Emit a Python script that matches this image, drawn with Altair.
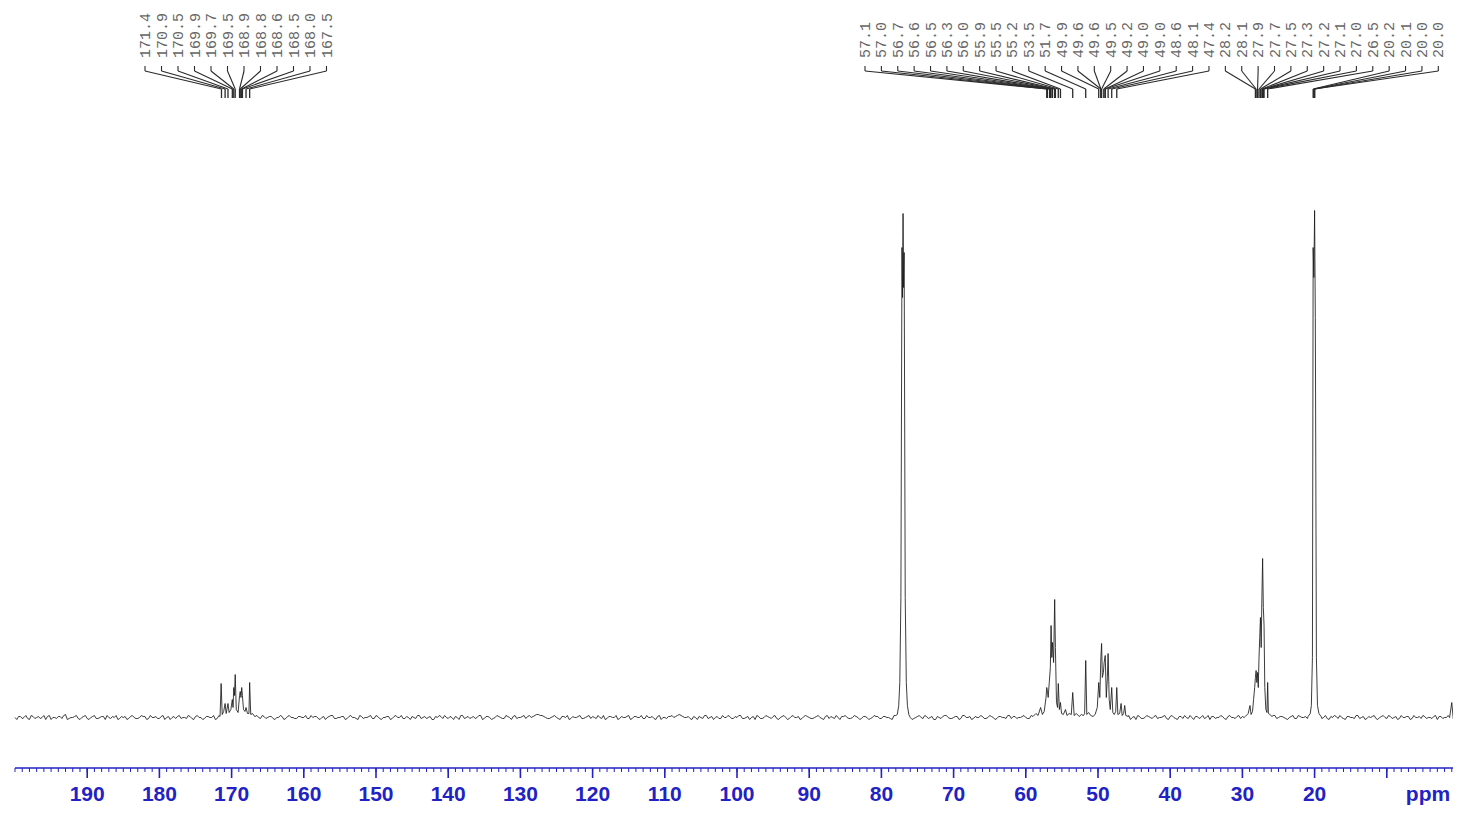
import altair as alt
import pandas as pd

# ---------------- data ----------------
# baseline noise, one value every 0.5 ppm starting at 200 ppm (pixel-like intensity units)
NOISE_START = 200.0
NOISE_STEP = 0.5
noise = [
    0, 1, -1, 2, -2, 1, 0, -1, 2, 1, -2, 0, 1, -1, 3, -1, 0, 2, -2, 1, -1, 0, 2, -1, 1, -2, 0, 1, 2, -1, 0, -2, 1, 0, -1, 2, 1, -1, 0, 1,
    -1, 2, 0, -2, 1, 1, -1, 0, 2, -1, 1, 0, -2, 1, 0, 2, -1, 1, 0, -1, 2, 0, 1, -2, 1, 0, -1, 2, -1, 1, 0, 1, -2, 0, 1, -1, 2, 0, -1, 1,
    0, -1, 2, 1, -1, 0, -2, 1, 2, -1, 0, 1, -1, 2, 0, -2, 1, 0, 1, -1, 2, -1, 0, 1, -2, 1, 0, 2, -1, 0, 1, -1, 2, 0, -1, 1, -2, 0, 1, 2,
    -1, 0, 1, -2, 2, 0, -1, 1, 0, 2, -1, 1, -2, 0, 1, -1, 2, 0, 1, -1, 0, 2, 1, 0, 2, 3, 2, 0, -1, 1, 0, -2, 1, 2, -1, 0, 1, -1, 0, 2,
    1, -1, 0, 2, -1, 1, 0, -2, 1, 0, 2, -1, 1, 0, -1, 2, 0, -1, 1, -2, 0, 1, 2, 1, 3, 1, 0, -1, 1, -2, 0, 2, -1, 1, 0, -1, 2, 0, 1, -1,
    0, 2, -1, 1, 0, -2, 1, -1, 2, 0, 1, -1, 0, 2, -2, 1, 0, 1, -1, 2, 0, -1, 1, 0, -2, 2, 1, -1, 0, 1, 2, -1, 0, 1, -2, 1, 0, -1, 2, 1,
    -1, 1, 0, -2, 2, 3, 1, 2, 0, -1, 1, 0, 2, -1, 1, -2, 0, 1, 2, -1, 0, 1, -1, 2, 0, -2, 1, 0, 1, -1, 2, 0, -1, 1, 0, 2, -1, 1, 0, 1,
    0, -1, 1, 2, -1, 0, 1, -2, 2, 0, 1, -1, 0, 2, 1, -1, 0, 1, -2, 1, 2, 0, -1, 1, 0, 2, -1, 1, 0, -2, 1, 2, -1, 0, 1, -1, 2, 0, 1, -1,
    1, 0, -2, 1, 2, -1, 0, 1, -1, 2, 0, -2, 1, 0, 2, -1, 1, 0, -1, 2, 1, -1, 0, 2, -2, 1, 0, 1, -1, 2, 0, 1, -1, 0, 2, -1, 1, 0, -1, 2,
    0, 1, -1, 2, -2, 0, 1, 2, -1, 1, 0, -1, 2, 0, -2, 1, 1, -1, 0, 2, -1, 1, 0, -2, 2, 0, 1, -1, 0, 1, 2, -1, 0, 1, -2, 1, 0, 2, -1, 0,
    1,
]
# in-between noise values, one every 0.5 ppm starting at 199.75 ppm
NOISE_MID_START = 199.75
noise_mid = [
    -2, 1, 0, -1, 2, -1, 1, 0, -2, 2, 0, -1, 1, 2, -2, 0, 1, -1, 0, 2, -2, 1, -1, 0, 1, 2, -1, 0, -2, 1, 1, -1, 2, -1, 0, 1, -2, 2, 0, -1,
    1, -2, 1, 0, -1, 2, 0, -1, 1, -2, 2, 0, -1, 1, 0, -2, 2, -1, 1, 0, -1, 1, 2, -1, 0, -2, 1, 0, 2, -1, 1, -1, 0, 2, -2, 1, 0, -1, 1, 0,
    2, -1, 0, 1, -2, 1, 0, 2, -1, 0, 1, -2, 1, 0, -1, 2, -1, 0, 2, -1, 1, -2, 0, 1, -1, 2, 0, -1, 1, -2, 0, 2, -1, 1, 0, -2, 1, 2, -1, 0,
    1, -2, 0, 2, -1, 1, 0, -1, 2, -2, 1, 0, -1, 2, 0, -1, 1, -2, 2, 0, 1, -1, 2, 1, 3, 2, 1, -1, 0, 2, -1, 1, 0, -2, 1, 0, 2, -1, 1, -1,
    0, 2, -1, -2, 1, 0, 2, -1, 0, 1, -2, 1, 0, 2, -1, 0, 1, -2, 2, 0, -1, 1, 0, 2, 2, 0, 1, -2, 0, 1, -1, 2, 0, -2, 1, -1, 0, 2, -1, 1,
    2, -1, 0, -2, 1, 2, -1, 0, 1, -1, 2, -2, 1, 0, -1, 2, 0, -2, 1, 1, -1, 0, 2, -1, 1, -1, 0, 2, -2, 1, 0, -1, 2, 0, -1, 1, -2, 0, 1, -1,
    1, 0, -1, 2, 1, 2, -1, 1, -2, 0, 2, -1, 1, 0, -2, 1, -1, 2, 0, -1, 1, -2, 2, 0, 1, -1, 0, 2, -1, 0, 1, -2, 1, 0, -1, 2, 1, -1, 0, 2,
    -1, 2, 0, -1, 1, -2, 2, 0, -1, 1, 0, 2, -2, 1, -1, 0, 2, -1, 1, 0, -2, 1, 0, 2, -1, 0, 1, -1, 2, 0, -2, 1, -1, 2, 0, 1, -1, 0, 2, -2,
    2, -1, 1, -1, 0, 2, -2, 1, 0, -1, 2, 1, -1, 0, 1, -2, 2, 0, 1, -1, 0, -1, 2, 0, 1, -2, 1, 0, 2, -1, 1, 0, -2, 1, -1, 2, 0, 1, -1, 0,
    -1, 2, 0, -1, 1, 2, -1, 0, -2, 1, 0, 2, -1, 1, -1, 0, 2, -2, 1, 0, 2, -1, 1, -1, 0, 1, -2, 2, 0, -1, 1, 0, -1, 2, 1, -1, 0, 2, -2, 1,
]

# peak groups: chemical shift (ppm) and height
a_ppm = [171.6, 171.45, 171.3, 171.1, 170.9, 170.75, 170.5, 170.35, 170.1, 169.9,
         169.8, 169.7, 169.6, 169.5, 169.35, 169.1, 168.9, 168.8, 168.7, 168.6,
         168.5, 168.35, 168.15, 168.0, 167.8, 167.6, 167.5, 167.35, 167.1, 166.8]
a_int = [1, 34, 3, 6, 14, 4, 14, 5, 8, 18,
         10, 30, 22, 43, 8, 5, 22, 26, 20, 30,
         22, 8, 6, 10, 4, 4, 35, 3, 4, 1]

b_ppm = [77.8, 77.6, 77.45, 77.3, 77.15, 77.07, 77.0, 76.93, 76.85, 76.7, 76.55, 76.4, 76.2]
b_int = [3, 12, 35, 120, 470, 420, 504, 430, 465, 120, 35, 12, 3]

c_ppm = [59.0, 58.6, 58.3, 57.95, 57.7, 57.45, 57.2, 57.1, 57.0, 56.9,
         56.75, 56.6, 56.5, 56.4, 56.3, 56.15, 56.0, 55.9, 55.75, 55.6,
         55.5, 55.35, 55.2, 55.05, 54.8, 54.5, 54.3, 54.0, 53.7, 53.5,
         53.3, 53.0, 52.6, 52.3, 52.0, 51.85, 51.7, 51.55, 51.3, 51.0,
         50.7, 50.4, 50.1, 49.9, 49.75, 49.6, 49.5, 49.4, 49.25, 49.15,
         49.0, 48.85, 48.7, 48.6, 48.45, 48.3, 48.1, 47.95, 47.75, 47.55,
         47.4, 47.25, 47.0, 46.8, 46.65, 46.45, 46.3, 46.15, 45.8]
c_int = [1, 4, 2, 10, 3, 6, 20, 30, 26, 20,
         35, 50, 92, 60, 75, 55, 118, 70, 15, 10,
         34, 8, 15, 4, 3, 8, 2, 4, 3, 25,
         2, 4, 1, 3, 2, 4, 57, 3, 5, 2,
         1, 3, 10, 35, 20, 60, 74, 40, 45, 55,
         62, 20, 40, 64, 18, 8, 30, 5, 3, 6,
         30, 3, 4, 14, 2, 4, 12, 2, 1]

d_ppm = [29.6, 29.2, 28.95, 28.8, 28.6, 28.45, 28.3, 28.2, 28.1, 28.0,
         27.9, 27.8, 27.7, 27.6, 27.5, 27.4, 27.3, 27.2, 27.1, 27.0,
         26.9, 26.75, 26.6, 26.5, 26.4, 26.2, 25.9]
d_int = [1, 4, 12, 3, 6, 18, 30, 40, 47, 35,
         45, 30, 60, 80, 100, 70, 120, 159, 110, 92,
         30, 8, 5, 35, 4, 3, 1]

e_ppm = [20.9, 20.6, 20.45, 20.3, 20.2, 20.1, 20.0, 19.9, 19.75, 19.6, 19.4, 19.1]
e_int = [1, 4, 12, 60, 470, 440, 507, 400, 60, 12, 4, 1]

f_ppm = [1.3, 1.0, 0.8]
f_int = [0, 15, -1]

# peak labels
labels_left = ["171.4", "170.9", "170.5", "169.9", "169.7", "169.5",
               "168.9", "168.8", "168.6", "168.5", "168.0", "167.5"]
labels_right = ["57.1", "57.0", "56.7", "56.6", "56.5", "56.3", "56.0", "55.9", "55.5", "55.2",
                "53.5", "51.7", "49.9", "49.6", "49.6", "49.5", "49.2", "49.0", "49.0", "48.6",
                "48.1", "47.4",
                "28.2", "28.1", "27.9", "27.7", "27.5", "27.3", "27.2", "27.1", "27.0", "26.5",
                "20.2", "20.1", "20.0", "20.0"]

axis_labels = [190, 180, 170, 160, 150, 140, 130, 120, 110, 100, 90, 80, 70, 60, 50, 40, 30, 20]
axis_major = axis_labels + [10, 0]
axis_minor = list(range(0, 201))

# ---------------- layout ----------------
W, H = 1438, 760          # visible view
SCALE_W = 1444            # pixel length of 200 ppm (runs slightly past the view edge)
PPM_MAX, PPM_MIN = 200, 0
BLUE = "#2222c4"
PX_PER_PPM = SCALE_W / (PPM_MAX - PPM_MIN)
TEXT_Y = 793


def px_to_ppm(px_plot):
    return PPM_MAX - px_plot / PX_PER_PPM


groups = [(a_ppm, a_int), (b_ppm, b_int), (c_ppm, c_int), (d_ppm, d_int), (e_ppm, e_int), (f_ppm, f_int)]
spans = [(min(p), max(p)) for p, _ in groups]
rows = []
for start, vals in ((NOISE_START, noise), (NOISE_MID_START, noise_mid)):
    for i, v in enumerate(vals):
        ppm = start - NOISE_STEP * i
        if any(lo <= ppm <= hi for lo, hi in spans):
            continue
        rows.append((ppm, v))
for p, h in groups:
    rows += list(zip(p, h))
spec = pd.DataFrame(rows, columns=["ppm", "I"]).sort_values("ppm")

lab_rows = []
for k, t in enumerate(labels_left):
    lab_rows.append({"txt": t, "peak": float(t), "lab": px_to_ppm(130 + 16.5 * k)})
for k, t in enumerate(labels_right):
    lab_rows.append({"txt": t, "peak": float(t), "lab": px_to_ppm(850 + 16.38 * k)})
labs = pd.DataFrame(lab_rows)

xs = alt.Scale(domain=[PPM_MAX, PPM_MIN], range=[0, SCALE_W], nice=False, zero=False)
ys = alt.Scale(domain=[-50.5, 709.5], nice=False, zero=False)

spectrum = alt.Chart(spec).mark_line(color="#1a1a1a", strokeWidth=0.85).encode(
    x=alt.X("ppm:Q", scale=xs, axis=None),
    y=alt.Y("I:Q", scale=ys, axis=None),
    order="ppm:Q",
)

# axis drawn from marks
domain_line = alt.Chart(pd.DataFrame({"d": [0]})).mark_rule(color=BLUE, strokeWidth=1.5).encode(
    x=alt.value(0), x2=alt.value(SCALE_W + 1), y=alt.value(H))
minor = alt.Chart(pd.DataFrame({"t": axis_minor})).mark_rule(color=BLUE, strokeWidth=1).encode(
    x=alt.X("t:Q", scale=xs, axis=None), y=alt.value(H), y2=alt.value(H + 4))
major = alt.Chart(pd.DataFrame({"t": axis_major})).mark_rule(color=BLUE, strokeWidth=1.6).encode(
    x=alt.X("t:Q", scale=xs, axis=None), y=alt.value(H), y2=alt.value(H + 10))
tick_text = alt.Chart(pd.DataFrame({"t": axis_labels})).mark_text(
    font="Liberation Sans", fontSize=21, fontWeight="bold", color=BLUE,
    align="center", baseline="alphabetic").encode(
    x=alt.X("t:Q", scale=xs, axis=None), y=alt.value(TEXT_Y), text="t:Q")
ppm_text = alt.Chart(pd.DataFrame({"t": ["ppm"], "x": [px_to_ppm(1413)]})).mark_text(
    font="Liberation Sans", fontSize=21, fontWeight="bold", color=BLUE,
    align="center", baseline="alphabetic").encode(
    x=alt.X("x:Q", scale=xs, axis=None), y=alt.value(TEXT_Y), text="t:N")

LC = "#2a2a2a"
seg_top = alt.Chart(labs).mark_rule(color=LC, strokeWidth=1.1).encode(
    x=alt.X("lab:Q", scale=xs, axis=None), y=alt.value(58), y2=alt.value(63))
seg_diag = alt.Chart(labs).mark_rule(color=LC, strokeWidth=1.1).encode(
    x=alt.X("lab:Q", scale=xs, axis=None), x2="peak:Q", y=alt.value(63), y2=alt.value(81))
seg_bot = alt.Chart(labs).mark_rule(color=LC, strokeWidth=1.3).encode(
    x=alt.X("peak:Q", scale=xs, axis=None), y=alt.value(81), y2=alt.value(90))
lab_text = alt.Chart(labs).mark_text(
    angle=270, align="left", baseline="middle", font="Liberation Mono",
    fontSize=15, color="#666666").encode(
    x=alt.X("lab:Q", scale=xs, axis=None), y=alt.value(50), text="txt:N")

chart = alt.layer(spectrum, domain_line, minor, major, tick_text, ppm_text,
                  seg_top, seg_diag, seg_bot, lab_text).properties(
    width=W, height=H,
    autosize=alt.AutoSizeParams(type="none"),
    padding={"left": 7, "top": 0, "right": 0, "bottom": 37},
    background="white",
).configure_view(stroke=None)

chart.save("out.html", embed_options={"renderer": "svg", "actions": False})
